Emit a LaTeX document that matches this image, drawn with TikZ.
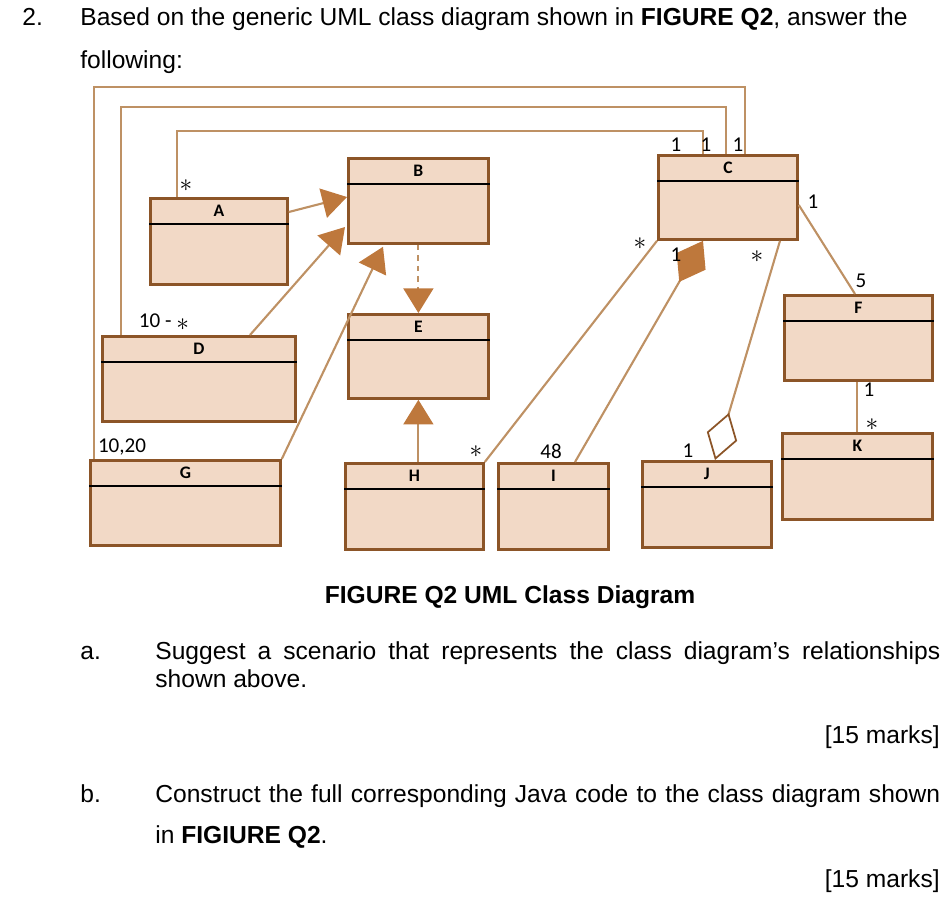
\documentclass[tikz,border=0pt]{standalone}
\usepackage{fontspec}
\setmainfont{Liberation Sans}
\newfontfamily\diafont{Carlito}
\usetikzlibrary{arrows.meta,calc,positioning}

\definecolor{peach}{RGB}{242,217,198}
\definecolor{boxbrown}{RGB}{140,85,40}
\definecolor{wirebrown}{RGB}{190,145,100}
\definecolor{tribrown}{RGB}{190,120,60}

\newcommand\umlstar{\raisebox{-0.35ex}{\Large$\ast$}}

\tikzset{
  classbox/.style={draw=boxbrown, fill=peach, line width=1.6pt, anchor=north west, inner sep=0pt},
  headline/.style={line width=1.4pt, black},
  wire/.style={draw=wirebrown, line width=0.8pt},
  gen/.style={draw=wirebrown, line width=1.2pt, -{Triangle[length=14pt,width=17pt,fill=tribrown,color=tribrown]}},
  comp/.style={draw=wirebrown, line width=1.2pt, {Diamond[length=27pt,width=19pt,fill=tribrown,color=tribrown]}-},
  aggr/.style={draw=wirebrown, line width=1.2pt, -{Diamond[length=28pt,width=18pt,open,color=boxbrown,line width=1pt]}},
  mult/.style={font=\diafont\large, inner sep=1pt},
  txt/.style={anchor=base west, font=\fontsize{14}{16}\selectfont, inner sep=0pt}
}

\begin{document}
\begin{tikzpicture}[x=0.02cm, y=-0.02cm]
  \useasboundingbox (0,0) rectangle (946,897);

  % class boxes
  \foreach \n/\x/\y/\w/\h in {A/149/197/2.74/1.72, B/347/157/2.8/1.7, C/657/154/2.78/1.68,
      E/347/313/2.8/1.68, D/101/335/3.86/1.7, F/783/294/2.96/1.7, G/89/459/3.8/1.7,
      H/344/462/2.76/1.72, I/497/462/2.2/1.72, J/641/460/2.58/1.72, K/781/432/3.0/1.72} {
    \node[classbox, minimum width=\w cm, minimum height=\h cm] (\n) at (\x,\y) {};
    \draw[headline] ($(\n.north west)+(0,27)$) -- ($(\n.north east)+(0,27)$);
    \node[font=\diafont\bfseries] at ($(\n.north)+(0,14)$) {\n};
  }

  % long associations to C
  \draw[wire] ($(G.north west)+(5,0)$) -- ++(0,-372) -| ($(C.north west)+(88,0)$);
  \draw[wire] ($(D.north west)+(20,0)$) -- ++(0,-228) -| ($(C.north west)+(69,0)$);
  \draw[wire] ($(A.north west)+(28,0)$) -- ++(0,-66) -| ($(C.north west)+(46,0)$);

  % generalisations and dependency
  \draw[gen] ($(A.north east)+(0,15)$) -- ($(B.north west)+(0,40)$);
  \draw[gen] ($(D.north west)+(149,0)$) -- ($(B.north west)+(-2,70)$);
  \draw[gen] (G.north east) -- ($(B.south west)+(36,2)$);
  \draw[gen, dashed] (B.south) -- (E.north);
  \draw[gen] (E.south |- H.north) -- (E.south);

  % associations
  \draw[wire, line width=1.2pt] (H.north east) -- (C.south west);
  \draw[comp] ($(C.south west)+(46,0)$) -- ($(I.north west)+(78,0)$);
  \draw[aggr] ($(C.south west)+(123,0)$) -- ($(J.north west)+(74,0)$);
  \draw[wire, line width=1.2pt] ($(C.north east)+(0,51)$) -- ($(F.north west)+(72,0)$);
  \draw[wire, line width=1.2pt] ($(F.south west)+(74,0)$) -- ($(K.north west)+(76,0)$);

  % multiplicities
  \foreach \t/\x/\y in {1/676/145, 1/706/145, 1/738/145, \umlstar/186/186, 10 - \umlstar/164/322,
      {10,20}/122/447, \umlstar/476/452, \umlstar/640/244, 1/676/255, 48/551/451,
      \umlstar/757/257, 1/688/451, 1/813/202, 5/861/281, 1/869/390, \umlstar/872/425}
    \node[mult] at (\x,\y) {\t};

  % question text
  \node[txt] at (22,25) {2.};
  \node[txt] at (80,25) {Based on the generic UML class diagram shown in \textbf{FIGURE Q2}, answer the};
  \node[txt] at (80,68) {following:};
  \node[font=\fontsize{14}{16}\selectfont\bfseries] at (510,597) {FIGURE Q2 UML Class Diagram};
  \node[txt] at (80,659) {a.};
  \node[txt] at (155,659) {\makebox[15.7cm][s]{Suggest a scenario that represents the class diagram’s relationships}};
  \node[txt] at (155,687) {shown above.};
  \node[txt, anchor=base east] at (940,743) {[15 marks]};
  \node[txt] at (80,802) {b.};
  \node[txt] at (155,802) {\makebox[15.7cm][s]{Construct the full corresponding Java code to the class diagram shown}};
  \node[txt] at (155,843) {in \textbf{FIGIURE Q2}.};
  \node[txt, anchor=base east] at (940,887) {[15 marks]};
\end{tikzpicture}
\end{document}
